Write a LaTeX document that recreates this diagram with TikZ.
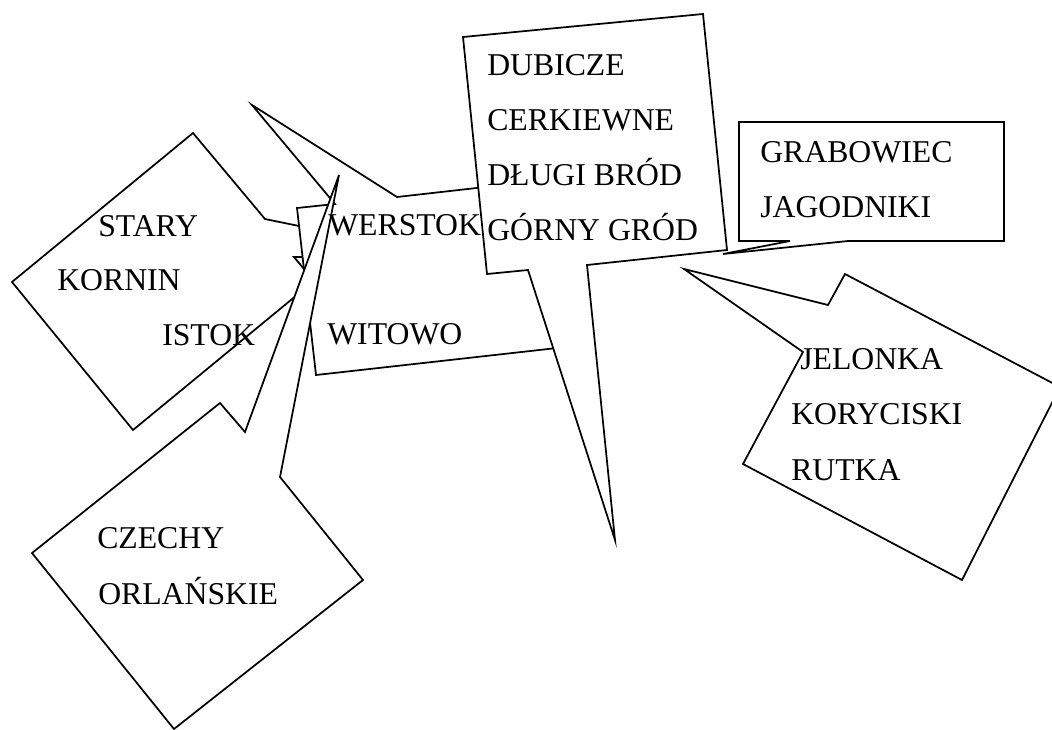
\documentclass[tikz,border=0pt]{standalone}
\usepackage{fontspec}
\setmainfont{Liberation Serif}
\usetikzlibrary{backgrounds}

\begin{document}
\begin{tikzpicture}[
  x=0.75pt, y=-0.75pt,
  callout/.style={
    draw=black,
    fill=white,
    line width=1.3pt,
    line join=miter
  },
  place/.style={anchor=base west, inner sep=0pt, font=\fontsize{23.8}{28}\selectfont}
]
\useasboundingbox (0,0) rectangle (1052,729);

\node[place] (stary) at (98,236) {STARY};
\node[place] (kornin) at (57,290) {KORNIN};
\node[place] (istok) at (162,345) {ISTOK};
\node[place] (werstok) at (328,235) {WERSTOK};
\node[place] (witowo) at (327,344) {WITOWO};
\node[place] (dubicze) at (487,75) {DUBICZE};
\node[place] (cerkiewne) at (487,130) {CERKIEWNE};
\node[place] (dlugi) at (487,185) {DŁUGI BRÓD};
\node[place] (gorny) at (487,240) {GÓRNY GRÓD};
\node[place] (grabowiec) at (760,162) {GRABOWIEC};
\node[place] (jagodniki) at (760,217) {JAGODNIKI};
\node[place] (jelonka) at (800,369) {JELONKA};
\node[place] (koryciski) at (791,424) {KORYCISKI};
\node[place] (rutka) at (791,480) {RUTKA};
\node[place] (czechy) at (97,548) {CZECHY};
\node[place] (orlanskie) at (98,604) {ORLAŃSKIE};

\begin{scope}[on background layer]
\draw[callout] (193,133) -- (265,219) -- (440,255) -- (294,257) -- (314,281) -- (133,430) -- (12,282) -- cycle;
\draw[callout] (297,208) -- (335,204) -- (252,105) -- (397,197) -- (556,179) -- (575,346) -- (316,375) -- cycle;
\draw[callout] (220,403) -- (245,432) -- (339,175) -- (280,477) -- (363,580) -- (174,729) -- (32,553) -- cycle;
\draw[callout] (463,37) -- (703,14) -- (727,250) -- (587,265) -- (615,540) -- (528,270) -- (487,274) -- cycle;
\draw[callout] (739,122) -- (1004,122) -- (1004,241) -- (848,241) -- (723,254) -- (790,241) -- (739,241) -- cycle;
\draw[callout] (845,274) -- (1060,387) -- (962,580) -- (743,464) -- (803,352) -- (684,269) -- (828,305) -- cycle;
\end{scope}
\end{tikzpicture}
\end{document}
